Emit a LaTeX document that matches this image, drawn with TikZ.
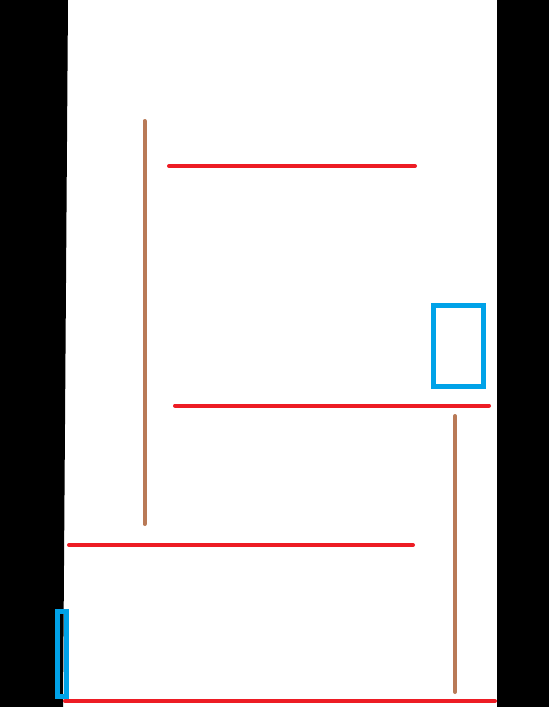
\documentclass[tikz,border=0pt]{standalone}
\definecolor{wallred}{RGB}{237,28,36}
\definecolor{postbrown}{RGB}{185,122,87}
\definecolor{boxblue}{RGB}{0,162,232}
\tikzset{
  shelf/.style={wallred,line width=4pt,line cap=round},
  post/.style={postbrown,line width=4pt,line cap=round},
  frame/.style={boxblue,line width=5pt},
}
\begin{document}
\begin{tikzpicture}[x=1pt,y=-1pt]
  \useasboundingbox (0,0) rectangle (549,707);
  \fill[black] (0,0) -- (68,0) -- (63,707) -- (0,707) -- cycle;
  \fill[black] (497,0) rectangle (549,707);
  \draw[post] (144.5,121) -- (144.5,524);
  \draw[post] (455,416) -- (455,692);
  \draw[shelf] (169,166) -- (415,166);
  \draw[shelf] (175,405.5) -- (489,405.5);
  \draw[shelf] (69,545) -- (413,545);
  \draw[shelf] (65,701) -- (495,701);
  \draw[frame] (433.5,305.5) rectangle (483.5,386.5);
  \draw[frame] (57.5,611.5) rectangle (66.5,696.5);
\end{tikzpicture}
\end{document}
